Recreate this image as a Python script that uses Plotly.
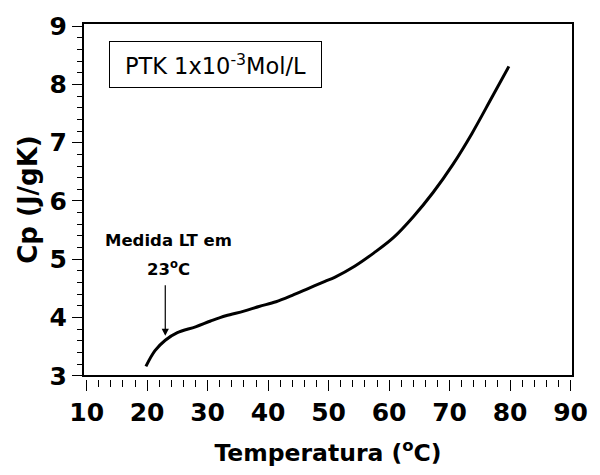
import plotly.graph_objects as go

# Data
temperatura = [19.8, 21.3, 23.0, 25.0, 28.0, 30.5, 33.0, 36.0, 38.5, 41.3, 44.0,
               46.7, 49.4, 51.0, 54.3, 57.5, 60.8, 64.0, 67.3, 70.5, 73.7, 77.0, 79.8]
cp = [3.16, 3.43, 3.61, 3.74, 3.84, 3.94, 4.03, 4.11, 4.19, 4.27, 4.38,
      4.50, 4.62, 4.69, 4.88, 5.11, 5.38, 5.73, 6.15, 6.62, 7.16, 7.78, 8.31]

x_ticks = [10, 20, 30, 40, 50, 60, 70, 80, 90]
y_ticks = [3, 4, 5, 6, 7, 8, 9]

label_box = "PTK 1x10<sup>-3</sup>Mol/L"
note_line1 = "Medida LT em"
note_line2 = "23<sup>o</sup>C"
note_x = 23.0

FONT = "DejaVu Sans"

fig = go.Figure()
fig.add_trace(go.Scatter(
    x=temperatura, y=cp, mode="lines",
    line=dict(color="black", width=3, shape="spline", smoothing=1.0),
    showlegend=False, hoverinfo="skip",
))

fig.update_layout(
    width=600, height=475,
    margin=dict(l=83, r=17, t=16, b=96),
    paper_bgcolor="white", plot_bgcolor="white",
    font=dict(family=FONT, color="black"),
    xaxis=dict(
        range=[9.4, 90.4], tickmode="array", tickvals=x_ticks,
        ticks="outside", ticklen=11, tickwidth=1.2, tickcolor="black",
        minor=dict(dtick=2, tick0=0, ticks="outside", ticklen=7, tickwidth=1, tickcolor="black"),
        showline=False, showgrid=False, zeroline=False,
        anchor="free", position=0,
        tickfont=dict(family=FONT, size=25, weight="bold", color="black"),
        title=dict(text="Temperatura (<sup>o</sup>C)", standoff=18,
                   font=dict(family=FONT, size=23.5, weight="bold", color="black")),
    ),
    yaxis=dict(
        range=[2.995, 9.055], tickmode="array", tickvals=y_ticks,
        domain=[3 / 363, 1],
        ticks="outside", ticklen=10, tickwidth=1.2, tickcolor="black",
        minor=dict(dtick=0.2, tick0=0, ticks="outside", ticklen=5, tickwidth=1, tickcolor="black"),
        showline=False, showgrid=False, zeroline=False,
        tickfont=dict(family=FONT, size=25, weight="bold", color="black"),
        title=dict(text="Cp (J/gK)", standoff=4,
                   font=dict(family=FONT, size=26, weight="bold", color="black")),
    ),
    shapes=[dict(type="rect", xref="x domain", yref="y domain",
                 x0=0, x1=1, y0=0, y1=1, line=dict(color="black", width=2))],
    annotations=[
        dict(text=label_box, xref="paper", yref="paper", x=0.054, y=0.95,
             xanchor="left", yanchor="top", showarrow=False,
             font=dict(family=FONT, size=22.5, color="black"),
             bordercolor="black", borderwidth=1, borderpad=9, bgcolor="white",
             width=193, height=27, valign="middle"),
        dict(text=note_line1, x=23.6, y=5.33, xref="x", yref="y",
             xanchor="center", yanchor="middle", showarrow=False,
             font=dict(family=FONT, size=16.5, weight="bold", color="black")),
        dict(text=note_line2, x=23.6, y=4.85, xref="x", yref="y",
             xanchor="center", yanchor="middle", showarrow=False,
             font=dict(family=FONT, size=16.5, weight="bold", color="black")),
        dict(text="", x=note_x, y=3.685, ax=note_x, ay=4.58, xref="x", yref="y",
             axref="x", ayref="y", showarrow=True, arrowhead=2, arrowsize=1.2,
             arrowwidth=1.2, arrowcolor="black"),
    ],
)

fig.write_html("out.html")
